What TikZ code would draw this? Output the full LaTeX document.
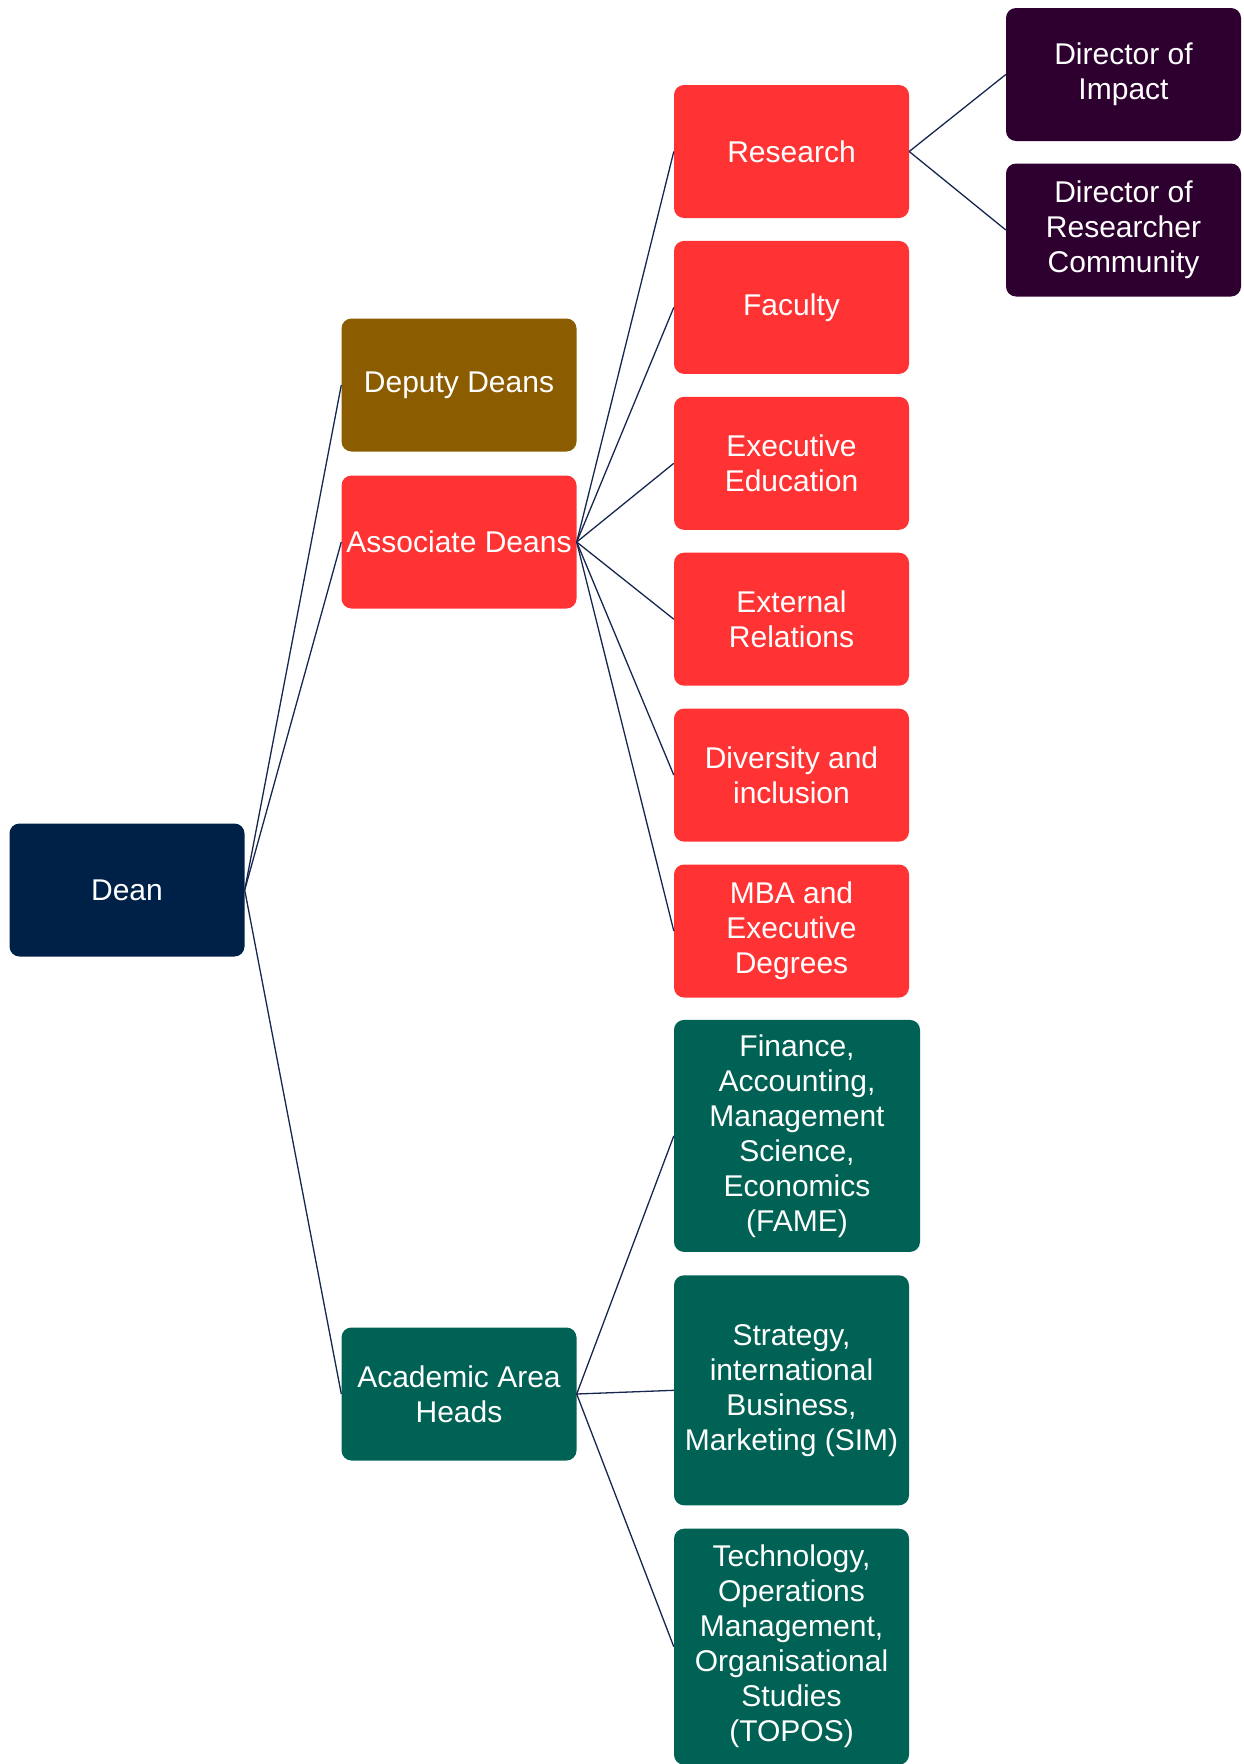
\documentclass[tikz,border=0pt]{standalone}
\usepackage{fontspec}
\setmainfont{Liberation Sans}
\usepackage{xcolor}
\usetikzlibrary{positioning}

\definecolor{deanblue}{RGB}{0,33,71}
\definecolor{deputybrown}{RGB}{139,92,0}
\definecolor{assocred}{RGB}{255,51,51}
\definecolor{areagreen}{RGB}{0,98,84}
\definecolor{dirpurple}{RGB}{45,0,48}
\definecolor{linkblue}{RGB}{22,38,78}

\begin{document}
\begin{tikzpicture}[x=1pt, y=-1pt,
  box/.style={rounded corners=10pt, minimum width=235pt, minimum height=133pt, align=center, text=white, inner sep=2pt, font=\fontsize{30}{35}\selectfont},
  link/.style={draw=linkblue, line width=1.3pt}
]
\useasboundingbox (0,0) rectangle (1243,1764);

% first two levels
\node[box, fill=deanblue] (dean) at (127,890) {Dean};
\node[box, fill=deputybrown] (deputy) at (459,385) {Deputy Deans};
\node[box, fill=assocred] (assoc) at (459,542) {Associate Deans};
\node[box, fill=areagreen] (area) at (459,1394) {Academic Area\\Heads};

% associate deans
\node[box, fill=assocred] (research) at (791.5,151.5) {Research};
\node[box, fill=assocred, below=22.5pt of research] (faculty) {Faculty};
\node[box, fill=assocred, below=22.5pt of faculty] (execed) {Executive\\Education};
\node[box, fill=assocred, below=22.5pt of execed] (extrel) {External\\Relations};
\node[box, fill=assocred, below=22.5pt of extrel] (divers) {Diversity and\\inclusion};
\node[box, fill=assocred, below=22.5pt of divers] (mba) {MBA and\\Executive\\Degrees};

% academic areas
\node[box, fill=areagreen, minimum width=246pt, minimum height=232pt, below=22pt of mba.south west, anchor=north west] (fame) {Finance,\\Accounting,\\Management\\Science,\\Economics\\(FAME)};
\node[box, fill=areagreen, minimum height=230pt, below=23pt of fame.south west, anchor=north west] (sim) {Strategy,\\international\\Business,\\Marketing (SIM)};
\node[box, fill=areagreen, minimum height=236pt, below=23pt of sim.south west, anchor=north west] (topos) {Technology,\\Operations\\Management,\\Organisational\\Studies\\(TOPOS)};

% research directors
\node[box, fill=dirpurple] (impact) at (1123.5,74.5) {Director of\\Impact};
\node[box, fill=dirpurple] (community) at (1123.5,230) {Director of\\Researcher\\Community};

\draw[link] (dean.east) -- (deputy.west);
\draw[link] (dean.east) -- (assoc.west);
\draw[link] (dean.east) -- (area.west);

\draw[link] (assoc.east) -- (research.west);
\draw[link] (assoc.east) -- (faculty.west);
\draw[link] (assoc.east) -- (execed.west);
\draw[link] (assoc.east) -- (extrel.west);
\draw[link] (assoc.east) -- (divers.west);
\draw[link] (assoc.east) -- (mba.west);

\draw[link] (area.east) -- (fame.west);
\draw[link] (area.east) -- (sim.west);
\draw[link] (area.east) -- (topos.west);

\draw[link] (research.east) -- (impact.west);
\draw[link] (research.east) -- (community.west);
\end{tikzpicture}
\end{document}
